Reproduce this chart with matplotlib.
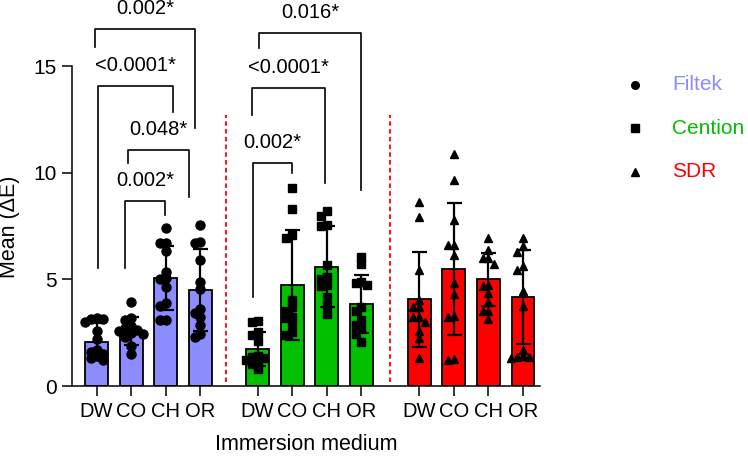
import numpy as np
import matplotlib.pyplot as plt
from matplotlib.lines import Line2D

plt.rcParams['font.family'] = ['Liberation Sans', 'DejaVu Sans']

###
# DADOS
###
media = ['DW', 'CO', 'CH', 'OR']
materiais = ['Filtek', 'Cention', 'SDR']
cores = ['#8C8CFF', '#00C000', '#FF0000']
marcadores = ['o', 's', '^']

filtek_mean = [2.08, 2.58, 5.06, 4.51]
filtek_sd = [0.86, 0.64, 1.51, 1.91]
centon_mean = [1.74, 4.74, 5.60, 3.85]
centon_sd = [0.81, 2.56, 1.90, 1.36]
sdr_mean = [4.07, 5.48, 5.00, 4.19]
sdr_sd = [2.24, 3.10, 1.23, 2.20]

filtek_pts = [
    [3.2, 3.15, 3.15, 3.0, 2.6, 2.2, 1.7, 1.6, 1.5, 1.4, 1.3, 1.2],
    [3.95, 3.2, 3.1, 2.8, 2.7, 2.65, 2.6, 2.5, 2.45, 2.3, 1.9, 1.5],
    [7.4, 6.7, 6.7, 6.35, 5.35, 5.05, 5.0, 4.65, 3.9, 3.75, 3.1, 3.1],
    [7.55, 6.75, 6.7, 5.9, 4.9, 4.55, 3.6, 3.45, 3.25, 2.85, 2.45, 2.3],
]
centon_pts = [
    [3.05, 3.0, 2.55, 2.4, 2.1, 1.4, 1.35, 1.3, 1.2, 1.1, 1.05, 0.8],
    [9.3, 8.3, 7.1, 6.95, 4.05, 3.7, 3.5, 3.25, 3.2, 2.95, 2.55, 2.4],
    [8.2, 8.0, 7.55, 7.5, 5.7, 5.1, 5.0, 4.75, 4.7, 4.2, 3.8, 3.4],
    [6.05, 5.75, 4.9, 4.85, 4.75, 3.7, 3.5, 3.1, 2.85, 2.7, 2.45, 2.05],
]
sdr_pts = [
    [8.65, 7.95, 5.45, 4.05, 3.7, 3.7, 3.25, 3.25, 3.0, 2.6, 2.25, 1.3],
    [10.9, 9.65, 7.8, 6.6, 6.6, 6.15, 4.85, 4.3, 3.3, 3.25, 1.25, 1.2],
    [6.95, 6.4, 6.0, 6.0, 5.75, 4.75, 4.7, 4.35, 3.95, 3.5, 3.5, 3.15],
    [6.95, 6.55, 6.3, 5.65, 5.45, 4.45, 3.75, 1.7, 1.4, 1.35, 1.35, 1.3],
]

# comparações significativas: (grupo, i, j, rótulo)
sig_pares = [(0, 0, 3, '0.002*'), (0, 0, 2, '<0.0001*'), (0, 1, 3, '0.048*'),
             (0, 1, 2, '0.002*'), (1, 0, 3, '0.016*'), (1, 0, 2, '<0.0001*'),
             (1, 0, 1, '0.002*')]

###
# LAYOUT
###
base_grupo = [0.0, 4.65, 9.32]
# geometria dos colchetes: (dx esq, dx dir, altura, perna esq, perna dir)
colchetes = [(-0.05, -0.16, 16.75, 15.93, 12.10),
             (0.05, 0.21, 14.08, 5.53, 12.88),
             (-0.09, -0.34, 11.08, 10.46, 8.89),
             (-0.18, -0.03, 8.69, 5.53, 8.03),
             (0.05, 0.0, 16.56, 15.85, 9.20),
             (-0.16, -0.04, 13.98, 12.72, 9.54),
             (-0.13, -0.01, 10.46, 4.19, 9.99)]
separadores = [3.75, 8.48]


def swarm(vals, xc, step=0.17, ry=0.3):
    # espalha os pontos na horizontal para não sobrepor
    placed = []
    xs = []
    for v in vals:
        for k in [0, -1, 1, -2, 2, -3, 3]:
            x = xc + k * step
            if all(((x - px) / step) ** 2 + ((v - py) / ry) ** 2 >= 0.95
                   for px, py in placed):
                break
        placed.append((x, v))
        xs.append(x)
    return xs


fig = plt.figure(figsize=(7.48, 4.62), dpi=100)
ax = fig.add_axes([71.7 / 748, 1 - 386 / 462, (540 - 71.7) / 748, 386 / 462])

means = [filtek_mean, centon_mean, sdr_mean]
sds = [filtek_sd, centon_sd, sdr_sd]
pts = [filtek_pts, centon_pts, sdr_pts]

xticks = []
for g in range(3):
    x = base_grupo[g] + np.arange(4)
    xticks += list(x)
    ax.bar(x, means[g], width=0.66, color=cores[g], edgecolor='black',
           linewidth=1.3, zorder=2)
    ax.errorbar(x, means[g], yerr=sds[g], fmt='none', ecolor='black',
                elinewidth=1.6, capsize=5.4, capthick=1.6, zorder=3)
    for i in range(4):
        xs = swarm(pts[g][i], x[i])
        ax.plot(xs, pts[g][i], ls='none', marker=marcadores[g], color='black',
                markersize=6 if g != 0 else 6.5, zorder=4, clip_on=False)

# colchetes de significância
for (g, i, j, lab), (dl, dr, yh, yl, yr) in zip(sig_pares, colchetes):
    x1 = base_grupo[g] + i + dl
    x2 = base_grupo[g] + j + dr
    ax.plot([x1, x1, x2, x2], [yl, yh, yh, yr], color='black', lw=1.2,
            clip_on=False, zorder=5)
    ax.text((x1 + x2) / 2, yh + 0.97, lab, ha='center', va='center',
            fontsize=14.5)

for xs in separadores:
    ax.plot([xs, xs], [0.2, 12.7], color='red', lw=1.3, ls=(0, (2.5, 1.8)))

ax.set_xlim(-0.72, 12.81)
ax.set_ylim(0, 18.12)
ax.set_xticks(xticks)
ax.set_xticklabels(media * 3)
ax.set_yticks([0, 5, 10, 15])
ax.tick_params(axis='both', length=7.2, width=1.1, labelsize=14.5)
ax.tick_params(axis='y', labelsize=15)
ax.tick_params(axis='x', pad=4)
ax.tick_params(axis='y', pad=3.5)
for s in ['top', 'right']:
    ax.spines[s].set_visible(False)
ax.spines['left'].set_bounds(0, 15)
ax.spines['left'].set_linewidth(1.1)
ax.spines['bottom'].set_linewidth(1.1)

fig.text(10 / 748, 1 - 226.7 / 462, 'Mean (ΔE)', rotation=90, ha='center',
         va='center', fontsize=15.5)
fig.text(306 / 748, 1 - 445 / 462, 'Immersion medium', ha='center',
         va='center', fontsize=15.5)

# legenda manual
for k, yp in enumerate([85, 128.3, 171.7]):
    fig.add_artist(Line2D([635 / 748], [1 - yp / 462], marker=marcadores[k],
                          color='black', markersize=5.5, ls='none',
                          transform=fig.transFigure))
    fig.text(672 / 748, 1 - yp / 462, materiais[k], color=cores[k],
             fontsize=15, va='center')

fig.savefig('out.png', dpi=100)
